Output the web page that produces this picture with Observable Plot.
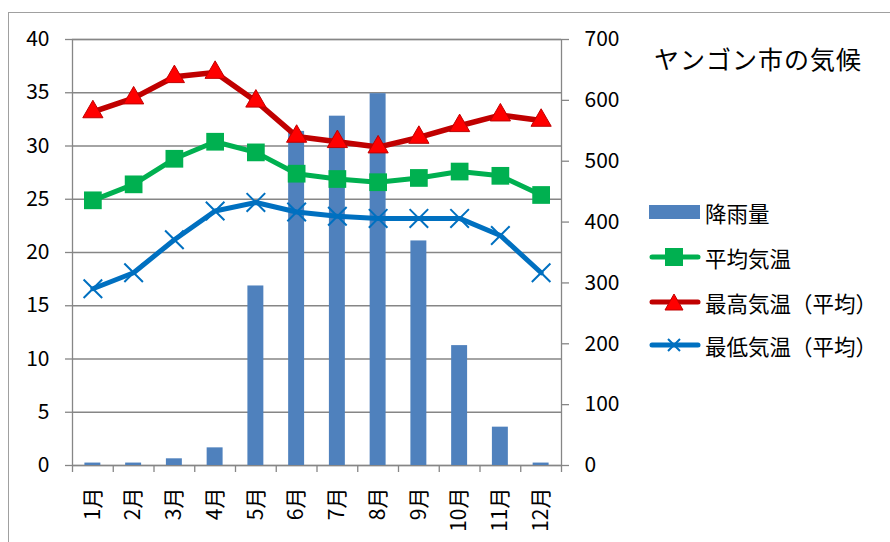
<!DOCTYPE html>
<html>
<head>
<meta charset="utf-8">
<script src="https://cdn.jsdelivr.net/npm/d3@7"></script>
<script src="https://cdn.jsdelivr.net/npm/@observablehq/plot@0.6"></script>
<style>
  body { margin: 0; background: #fff; }
  #wrap { position: relative; width: 890px; height: 542px; overflow: hidden; font-family: "Noto Sans CJK JP", sans-serif; }
  #border { position: absolute; left: 8px; top: 12px; width: 900px; height: 600px; border-top: 1.5px solid #a0a0a0; border-left: 1.5px solid #a0a0a0; }
  #title { position: absolute; left: 654px; top: 40px; font-size: 25px; color: #000; white-space: nowrap; letter-spacing: 1px; }
  .leg { position: absolute; left: 649px; display: flex; align-items: center; font-size: 21.5px; white-space: nowrap; color: #000; }
  .leg svg { margin-right: 4px; }
  #chart { position: absolute; left: 0; top: 0; }
</style>
</head>
<body>
<div id="wrap">
  <div id="border"></div>
  <div id="chart"></div>
  <div id="title">ヤンゴン市の気候</div>
  <div id="legend"></div>
</div>
<script>
const months = ["1月","2月","3月","4月","5月","6月","7月","8月","9月","10月","11月","12月"];
const rainfall = [4, 4, 11, 29, 295, 549, 574, 611, 369, 197, 63, 4];
const avgTemp = [24.9, 26.4, 28.8, 30.4, 29.4, 27.4, 26.9, 26.6, 27.0, 27.6, 27.2, 25.4];
const maxTemp = [33.2, 34.5, 36.5, 36.9, 34.2, 30.9, 30.4, 29.9, 30.8, 31.9, 32.9, 32.4];
const minTemp = [16.6, 18.1, 21.2, 23.9, 24.7, 23.8, 23.4, 23.2, 23.2, 23.2, 21.6, 18.1];
const leftTicks = [0, 5, 10, 15, 20, 25, 30, 35, 40];
const rightTicks = [0, 100, 200, 300, 400, 500, 600, 700];
const seriesNames = ["降雨量", "平均気温", "最高気温（平均）", "最低気温（平均）"];

const rows = months.map((m, i) => ({
  idx: i + 1, month: m, rain: rainfall[i], avg: avgTemp[i], max: maxTemp[i], min: minTemp[i]
}));
const k = 40 / 700; // rainfall (mm) to left-axis units
const boundaries = d3.range(0.5, months.length + 1, 1);
const gray = "#868686";

const chart = Plot.plot({
  width: 890,
  height: 542,
  marginLeft: 72,
  marginRight: 329,
  marginTop: 39,
  marginBottom: 77,
  x: { type: "linear", domain: [0.5, months.length + 0.5] },
  y: { domain: [0, 40] },
  style: { fontFamily: "'Noto Sans CJK JP', sans-serif", fontSize: "21px", color: "#000", background: "transparent", overflow: "visible" },
  marks: [
    Plot.gridY(leftTicks, { stroke: gray, strokeOpacity: 1, strokeWidth: 1.3 }),
    Plot.frame({ stroke: gray, strokeWidth: 1.3 }),
    Plot.axisY(leftTicks, { anchor: "left", tickSize: 7, tickPadding: 16, stroke: gray, strokeWidth: 1.3, label: null, fontSize: 21 }),
    Plot.axisY(rightTicks.map(v => v * k), { anchor: "right", tickSize: 7, tickPadding: 16, stroke: gray, strokeWidth: 1.3, label: null, fontSize: 21, tickFormat: d => String(Math.round(d / k)) }),
    Plot.axisX(boundaries, { anchor: "bottom", tickSize: 7, stroke: gray, strokeWidth: 1.3, tickFormat: () => "", label: null }),
    Plot.axisX(rows.map(d => d.idx), { anchor: "bottom", tickSize: 0, tickPadding: 22, tickRotate: -90, tickFormat: i => months[i - 1], label: null, fontSize: 21 }),
    Plot.rectY(rows, { x1: d => d.idx - 0.5, x2: d => d.idx + 0.5, y: d => d.rain * k, fill: "#4F81BD", insetLeft: 12.4, insetRight: 12.4 }),
    Plot.line(rows, { x: "idx", y: "avg", stroke: "#00B050", strokeWidth: 5 }),
    Plot.dot(rows, { x: "idx", y: "avg", symbol: "square", r: 10, fill: "#00B050", stroke: "none" }),
    Plot.line(rows, { x: "idx", y: "max", stroke: "#C00000", strokeWidth: 5.5 }),
    Plot.dot(rows, { x: "idx", y: "max", symbol: "triangle", r: 7.5, fill: "#FF0000", stroke: "#C00000", strokeWidth: 1 }),
    Plot.line(rows, { x: "idx", y: "min", stroke: "#0070C0", strokeWidth: 5 }),
    Plot.dot(rows, { x: "idx", y: "min", symbol: "times", r: 8.5, stroke: "#0070C0", strokeWidth: 2 })
  ]
});
document.getElementById("chart").appendChild(chart);

// Legend
const legendTops = [212, 257, 302, 345];
const legend = document.getElementById("legend");
function swatch(i) {
  if (i === 0) return `<svg width="52" height="16"><rect x="0" y="1" width="51" height="14" fill="#4F81BD"/></svg>`;
  const colors = ["", "#00B050", "#C00000", "#0070C0"];
  const c = colors[i];
  let marker = "";
  if (i === 1) marker = `<rect x="16" y="0" width="18" height="18" fill="#00B050"/>`;
  if (i === 2) marker = `<path d="M25,1 L34,17 L16,17 Z" fill="#FF0000" stroke="#C00000" stroke-width="1"/>`;
  if (i === 3) marker = `<path d="M19,3 L31,15 M31,3 L19,15" stroke="#0070C0" stroke-width="2"/>`;
  return `<svg width="52" height="18"><line x1="3" y1="9" x2="49" y2="9" stroke="${c}" stroke-width="5" stroke-linecap="round"/>${marker}</svg>`;
}
seriesNames.forEach((name, i) => {
  const div = document.createElement("div");
  div.className = "leg";
  div.style.top = (legendTops[i] - 16) + "px";
  div.style.height = "32px";
  div.innerHTML = swatch(i) + `<span>${name}</span>`;
  legend.appendChild(div);
});
</script>
</body>
</html>
